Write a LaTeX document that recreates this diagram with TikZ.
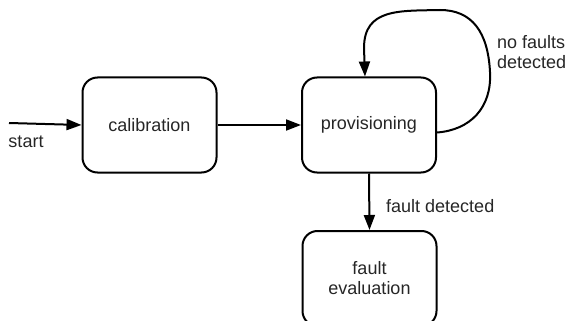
\documentclass[tikz,border=0pt]{standalone}
\usepackage{fontspec}
\setmainfont{Liberation Sans}
\usetikzlibrary{arrows.meta,calc}
\begin{document}
\begin{tikzpicture}[x=1pt,y=-1pt,
  state/.style={draw=black,line width=2pt,rounded corners=15pt,minimum width=134pt,minimum height=95pt,inner sep=0pt,align=center,font=\fontsize{18}{20}\selectfont,text=black!85},
  lbl/.style={font=\fontsize{18}{20}\selectfont,text=black!85,inner sep=0pt,align=left},
  conn/.style={line width=2pt,-{Triangle[length=15pt,width=11pt]}}]
\path[use as bounding box,clip] (0,0) rectangle (565,321);
\node[state] (cal) at (149.5,125) {calibration};
\node[state] (prov) at (369,125) {provisioning};
\node[state] (fe) at (369.5,278.5) {fault\\evaluation};
\coordinate (s) at (9,123);
\draw[conn] (s) -- (cal.west);
\node[lbl] (st) at (26,142) {start};
\draw[conn] (cal.east) -- (prov.west);
\draw[conn] ([yshift=-7.5pt]prov.east) .. controls (470,130) and (492,108) .. (490,72)
  .. controls (488,32) and (472,10) .. (440,10)
  .. controls (400,11) and (364,8) .. (364,48) -- ([xshift=-4pt]prov.north);
\node[lbl,anchor=west] (nf) at (497,52) {no faults\\detected};
\draw[conn] (prov.south) -- (fe.north);
\node[lbl,anchor=west] (fd) at (386,206) {fault detected};
\end{tikzpicture}
\end{document}
